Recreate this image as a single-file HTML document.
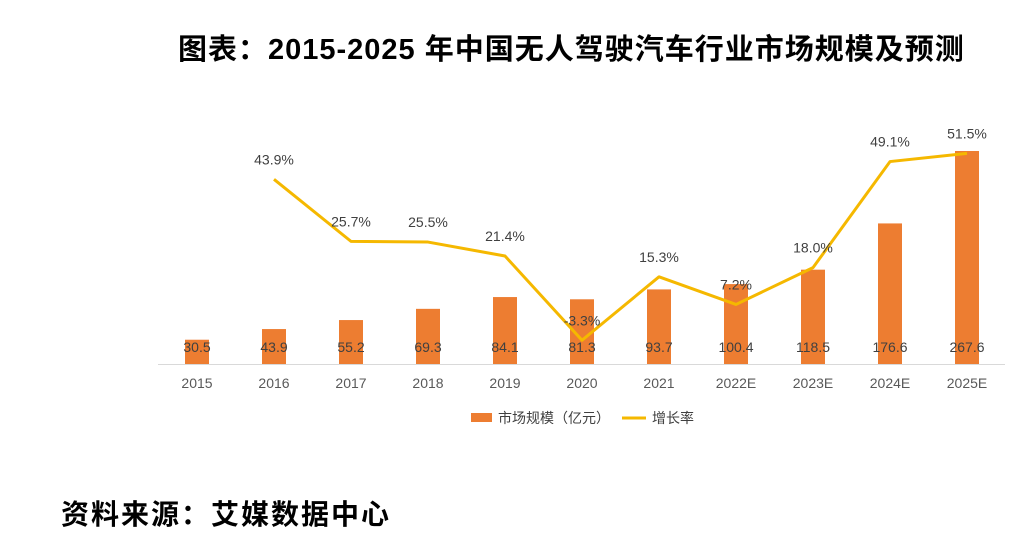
<!DOCTYPE html>
<html><head><meta charset="utf-8"><style>
body{margin:0;background:#fff;width:1024px;height:559px;overflow:hidden;font-family:"Liberation Sans","Noto Sans CJK SC",sans-serif}
.t{position:absolute;font-weight:bold;color:#000;white-space:nowrap}
</style></head><body>
<div class="t" style="left:178px;top:26px;font-size:29px;letter-spacing:1px">图表：2015-2025 年中国无人驾驶汽车行业市场规模及预测</div>
<div class="t" style="left:61px;top:493px;font-size:28px;letter-spacing:2px">资料来源：艾媒数据中心</div>
<svg id="c" width="1024" height="559" style="position:absolute;left:0;top:0"></svg>
<script>
const categories=["2015","2016","2017","2018","2019","2020","2021","2022E","2023E","2024E","2025E"];
const sizeValues=[30.5,43.9,55.2,69.3,84.1,81.3,93.7,100.4,118.5,176.6,267.6];
const barLabels=["30.5","43.9","55.2","69.3","84.1","81.3","93.7","100.4","118.5","176.6","267.6"];
const growthValues=[null,43.9,25.7,25.5,21.4,-3.3,15.3,7.2,18.0,49.1,51.5];
const growthLabels=["","43.9%","25.7%","25.5%","21.4%","-3.3%","15.3%","7.2%","18.0%","49.1%","51.5%"];
const svg=document.getElementById('c'),NS="http://www.w3.org/2000/svg";
const base=364;
const x=i=>197+i*77;
const yb=v=>base-v*0.796;
const yl=v=>329-v*3.41;
function mk(t,a,txt){const e=document.createElementNS(NS,t);for(const k in a)e.setAttribute(k,a[k]);if(txt!=null)e.textContent=txt;svg.appendChild(e);return e;}
let ax=mk('line',{x1:158,x2:1005,y1:base+0.5,y2:base+0.5,stroke:'#d9d9d9','stroke-width':1});


sizeValues.forEach((v,i)=>{
 const r=mk('rect',{x:x(i)-12,y:yb(v),width:24,height:base-yb(v),fill:'#ED7D31'});
 
 
 const l=mk('text',{x:x(i),y:352,'text-anchor':'middle','font-size':14,fill:'#404040'},barLabels[i]);
 
 
 const c=mk('text',{x:x(i),y:388,'text-anchor':'middle','font-size':14,fill:'#595959'},categories[i]);
 
 
});
let pts=[];growthValues.forEach((v,i)=>{if(v!=null)pts.push(x(i)+','+yl(v));});
const pl=mk('polyline',{points:pts.join(' '),fill:'none',stroke:'#F5B800','stroke-width':3,'stroke-linejoin':'round'});


growthValues.forEach((v,i)=>{if(v==null)return;
 const l=mk('text',{x:x(i),y:yl(v)-15,'text-anchor':'middle','font-size':14,fill:'#404040'},growthLabels[i]);
 
 
});
const ls=mk('rect',{x:471,y:413,width:21,height:9,fill:'#ED7D31'});


const lt=mk('text',{x:498,y:423,'font-size':14,fill:'#404040'},'市场规模（亿元）');


const ll=mk('line',{x1:622,x2:646,y1:418,y2:418,stroke:'#F5B800','stroke-width':3});


const lt2=mk('text',{x:652,y:423,'font-size':14,fill:'#404040'},'增长率');


</script>
</body></html>
